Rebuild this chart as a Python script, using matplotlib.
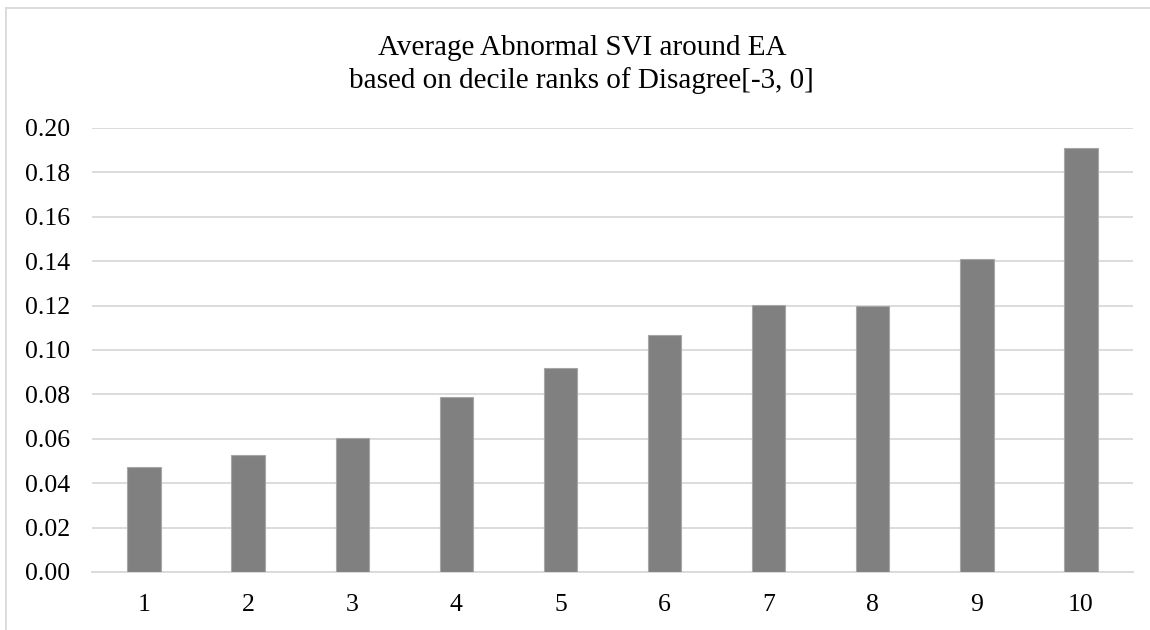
import matplotlib
matplotlib.use("Agg")
from matplotlib import pyplot as plt
from matplotlib.lines import Line2D

deciles = ["1", "2", "3", "4", "5", "6", "7", "8", "9", "10"]
abnormal_svi = [0.0471, 0.0528, 0.0602, 0.0787, 0.0920, 0.1069, 0.1204, 0.1198, 0.1412, 0.1908]
y_ticks = [0.00, 0.02, 0.04, 0.06, 0.08, 0.10, 0.12, 0.14, 0.16, 0.18, 0.20]

plt.rcParams['font.family'] = ['Liberation Serif', 'DejaVu Serif']

fig = plt.figure(figsize=(11.5, 6.3), dpi=100)
W, H = 1150, 630
# plot area in pixels: x 92..1133, y 128..572
ax = fig.add_axes([92 / W, 1 - 572 / H, (1133 - 92) / W, (572 - 128) / H])

# chart frame: only top and left edges are visible in the crop
fig.lines.append(Line2D([6 / W, 1.0], [1 - 7.5 / H, 1 - 7.5 / H], transform=fig.transFigure,
                        color='#d9d9d9', linewidth=1.3))
fig.lines.append(Line2D([6 / W, 6 / W], [0.0, 1 - 7.5 / H], transform=fig.transFigure,
                        color='#d9d9d9', linewidth=1.3))

x = list(range(len(deciles)))
ax.bar(x, abnormal_svi, width=0.32, color='#808080', edgecolor='#a6a6a6', linewidth=0.8, zorder=3)

ax.set_xlim(-0.5, len(deciles) - 0.5)
ax.set_ylim(0, 0.20)
ax.set_yticks(y_ticks)
ax.set_yticklabels([f"{v:.2f}" for v in y_ticks])
ax.set_xticks(x)
ax.set_xticklabels(deciles)
ax.tick_params(axis='both', length=0, labelsize=18.5, colors='#000000')
ax.tick_params(axis='y', pad=16)
ax.tick_params(axis='x', pad=16)

ax.grid(axis='y', color='#d9d9d9', linewidth=1.3, zorder=0)
for s in ['top', 'right', 'left']:
    ax.spines[s].set_visible(False)
ax.spines['bottom'].set_color('#d9d9d9')
ax.spines['bottom'].set_linewidth(1.3)

fig.text(582 / W, 1 - 55 / H, "Average Abnormal SVI around EA", ha='center', va='baseline', fontsize=21)
fig.text(581 / W, 1 - 88 / H, "based on decile ranks of Disagree[-3, 0]", ha='center', va='baseline', fontsize=21)

fig.savefig("out.png", dpi=100)
